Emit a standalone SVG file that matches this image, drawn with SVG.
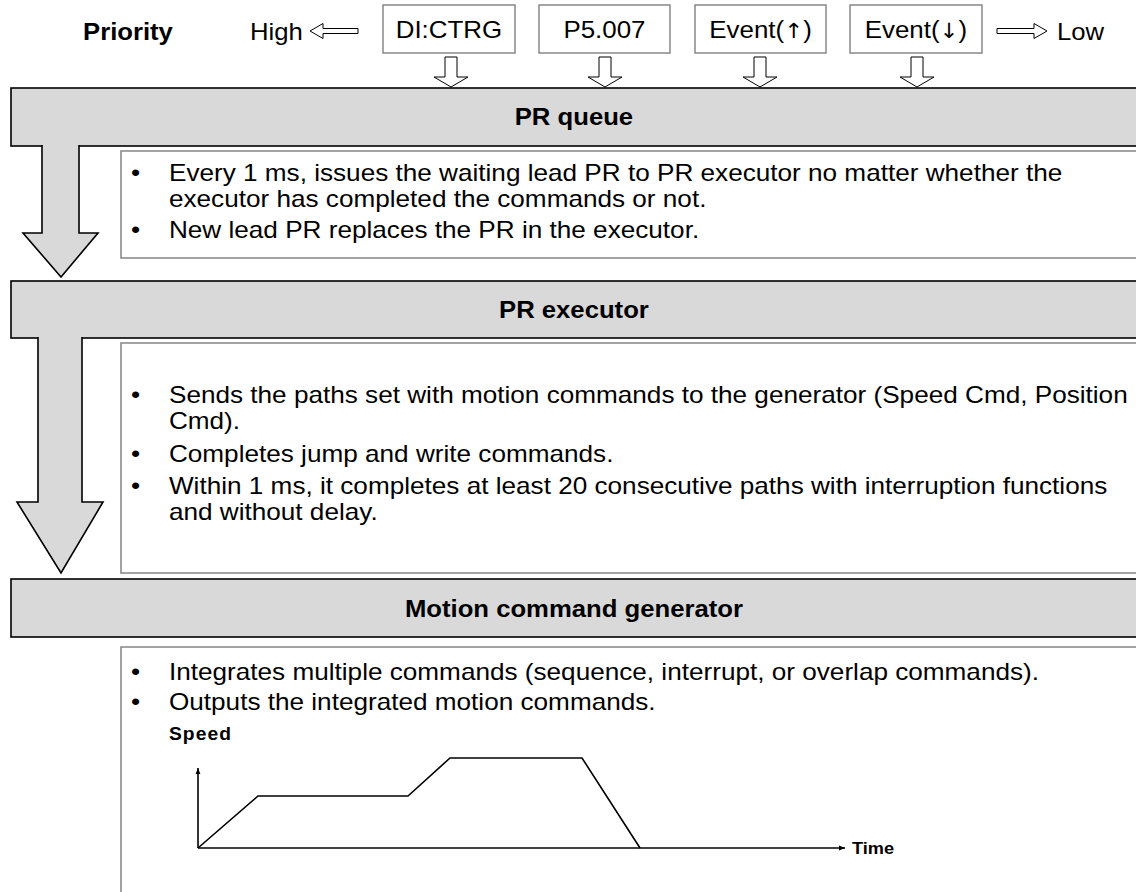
<svg xmlns="http://www.w3.org/2000/svg" width="1136" height="892" viewBox="0 0 1136 892">
<style>
  .t{font-family:"Liberation Sans",Arial,sans-serif;font-size:24px;fill:#000}
  .s{font-size:23px}
  .b{font-weight:bold}
  .m{text-anchor:middle}
  .ar{font-family:"DejaVu Sans",sans-serif;font-size:21px}
  .bar{fill:#d9d9d9;stroke:#000;stroke-width:1.6}
  .tb{fill:#fff;stroke:#8c8c8c;stroke-width:1.6}
  .pb{fill:#fff;stroke:#808080;stroke-width:1.4}
  .ha{fill:#fff;stroke:#000;stroke-width:1}
  .ga{fill:#d9d9d9;stroke:#000;stroke-width:1.6;stroke-linejoin:miter}
  .ln{fill:none;stroke:#000;stroke-width:1.6}
</style>
<defs>
  <marker id="ah" viewBox="0 0 10 10" refX="10" refY="5" markerWidth="6" markerHeight="6" orient="auto" markerUnits="userSpaceOnUse">
    <path d="M0,1 L10,5 L0,9 Z" fill="#000"/>
  </marker>
</defs>
<rect width="1136" height="892" fill="#fff"/>

<g id="priority">
  <g transform="scale(1.07 1)">
    <text class="t b" x="77.6" y="40">Priority</text>
    <text class="t" x="233.6" y="40">High</text>
    <text class="t" x="987.9" y="40">Low</text>
  </g>
  <path class="ha" d="M310,31 L323,23.5 L323,28.5 L358,28.5 L358,33.5 L323,33.5 L323,38.5 Z"/>
  <path class="ha" d="M1047,31 L1034,23.5 L1034,28.5 L997,28.5 L997,33.5 L1034,33.5 L1034,38.5 Z"/>
</g>

<g id="src-dictrg">
  <rect class="pb" x="383" y="5" width="132" height="48"/>
  <text class="t m" transform="scale(1.08 1)" x="415.7" y="38">DI:CTRG</text>
</g>
<g id="src-p5007">
  <rect class="pb" x="539" y="5" width="131" height="48"/>
  <text class="t m" transform="scale(1.08 1)" x="559.7" y="38">P5.007</text>
</g>
<g id="src-event-up">
  <rect class="pb" x="695" y="5" width="131" height="48"/>
  <text class="t m" transform="scale(1.08 1)" x="704.2" y="38">Event(<tspan class="ar">↑</tspan>)</text>
</g>
<g id="src-event-down">
  <rect class="pb" x="850" y="5" width="132" height="48"/>
  <text class="t m" transform="scale(1.08 1)" x="848.1" y="38">Event(<tspan class="ar">↓</tspan>)</text>
</g>

<g id="connectors">
  <path class="ha" d="M445,57 L457,57 L457,77 L468,77 L451,87 L434,77 L445,77 Z"/>
  <path class="ha" d="M599,57 L611,57 L611,77 L622,77 L605,87 L588,77 L599,77 Z"/>
  <path class="ha" d="M754,57 L766,57 L766,77 L777,77 L760,87 L743,77 L754,77 Z"/>
  <path class="ha" d="M911,57 L923,57 L923,77 L934,77 L917,87 L900,77 L911,77 Z"/>
</g>

<g id="pr-queue">
  <rect class="tb" x="121" y="151" width="1030" height="107"/>
  <rect class="bar" x="11" y="88" width="1140" height="58"/>
  <text class="t b m" transform="scale(1.07 1)" x="536.4" y="125">PR queue</text>
  <g transform="scale(1.137 1)">
    <text class="t s" x="115.2" y="181">•</text>
    <text class="t s" x="148.6" y="181">Every 1 ms, issues the waiting lead PR to PR executor no matter whether the</text>
    <text class="t s" x="148.6" y="207">executor has completed the commands or not.</text>
    <text class="t s" x="115.2" y="238">•</text>
    <text class="t s" x="148.6" y="238">New lead PR replaces the PR in the executor.</text>
  </g>
</g>

<g id="pr-executor">
  <rect class="tb" x="121" y="343" width="1030" height="230"/>
  <rect class="bar" x="11" y="281" width="1140" height="57"/>
  <text class="t b m" transform="scale(1.07 1)" x="536.4" y="318">PR executor</text>
  <g transform="scale(1.137 1)">
    <text class="t s" x="115.2" y="403">•</text>
    <text class="t s" x="148.6" y="403">Sends the paths set with motion commands to the generator (Speed Cmd, Position</text>
    <text class="t s" x="148.6" y="429">Cmd).</text>
    <text class="t s" x="115.2" y="462">•</text>
    <text class="t s" x="148.6" y="462">Completes jump and write commands.</text>
    <text class="t s" x="115.2" y="494">•</text>
    <text class="t s" x="148.6" y="494">Within 1 ms, it completes at least 20 consecutive paths with interruption functions</text>
    <text class="t s" x="148.6" y="520">and without delay.</text>
  </g>
</g>

<g id="motion-generator">
  <rect class="tb" x="121" y="647" width="1030" height="260"/>
  <rect class="bar" x="11" y="579" width="1140" height="58"/>
  <text class="t b m" transform="scale(1.07 1)" x="536.4" y="617">Motion command generator</text>
  <g transform="scale(1.137 1)">
    <text class="t s" x="115.2" y="680">•</text>
    <text class="t s" x="148.6" y="680">Integrates multiple commands (sequence, interrupt, or overlap commands).</text>
    <text class="t s" x="115.2" y="710">•</text>
    <text class="t s" x="148.6" y="710">Outputs the integrated motion commands.</text>
  </g>
  <g transform="scale(1.07 1)">
    <text class="t b" style="font-size:18px;letter-spacing:1px" x="157.9" y="740">Speed</text>
    <text class="t b" style="font-size:17px" x="796.3" y="854">Time</text>
  </g>
  <line class="ln" x1="198" y1="848" x2="198" y2="768" marker-end="url(#ah)"/>
  <line class="ln" x1="198" y1="848" x2="845" y2="848" marker-end="url(#ah)"/>
  <polyline class="ln" points="198,848 258,796 408,796 450,758 582,758 640,848"/>
</g>

<g id="flow-arrows">
  <path class="ga" d="M42,145 L42,233 L23,233 L61,277 L98,233 L79,233 L79,145"/>
  <path class="ga" d="M38,337 L38,502 L17,502 L61,573 L103,502 L82,502 L82,337"/>
</g>
</svg>
